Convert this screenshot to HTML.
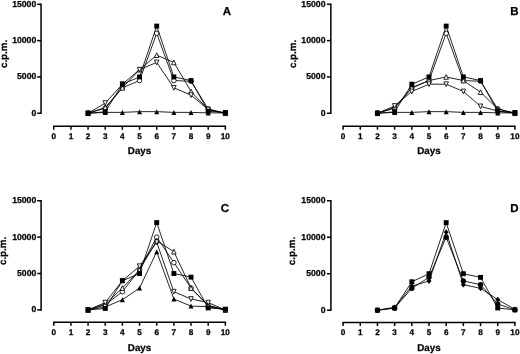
<!DOCTYPE html>
<html><head><meta charset="utf-8"><title>Figure</title>
<style>
html,body{margin:0;padding:0;background:#fff;}
body{width:520px;height:354px;overflow:hidden;}
svg{display:block;}
text{font-family:"Liberation Sans",Arial,Helvetica,sans-serif;font-weight:bold;text-rendering:geometricPrecision;fill:#000;stroke:#000;stroke-width:0.25px;}
.t{font-size:8.7px;}
.tx{font-size:8.2px;}
.l{font-size:9.8px;}
.p{font-size:11.5px;}
</style></head><body>
<svg width="520" height="354" viewBox="0 0 520 354">
<rect width="520" height="354" fill="#fff"/>
<g><path d="M41.05 3.55V114.00" stroke="#000" stroke-width="1.5" fill="none"/><path d="M37.15 113.25H41.05" stroke="#000" stroke-width="1.5"/><text x="36.30" y="115.65" text-anchor="end" class="t">0</text><path d="M37.15 76.93H41.05" stroke="#000" stroke-width="1.5"/><text x="36.30" y="79.33" text-anchor="end" class="t">5000</text><path d="M37.15 40.62H41.05" stroke="#000" stroke-width="1.5"/><text x="36.30" y="43.02" text-anchor="end" class="t">10000</text><path d="M37.15 4.30H41.05" stroke="#000" stroke-width="1.5"/><text x="36.30" y="6.70" text-anchor="end" class="t">15000</text><path d="M53.00 126.35H226.10" stroke="#000" stroke-width="1.5" fill="none"/><path d="M53.75 126.35V129.80" stroke="#000" stroke-width="1.5"/><text x="53.75" y="139.00" text-anchor="middle" class="tx">0</text><path d="M70.91 126.35V129.80" stroke="#000" stroke-width="1.5"/><text x="70.91" y="139.00" text-anchor="middle" class="tx">1</text><path d="M88.07 126.35V129.80" stroke="#000" stroke-width="1.5"/><text x="88.07" y="139.00" text-anchor="middle" class="tx">2</text><path d="M105.23 126.35V129.80" stroke="#000" stroke-width="1.5"/><text x="105.23" y="139.00" text-anchor="middle" class="tx">3</text><path d="M122.39 126.35V129.80" stroke="#000" stroke-width="1.5"/><text x="122.39" y="139.00" text-anchor="middle" class="tx">4</text><path d="M139.55 126.35V129.80" stroke="#000" stroke-width="1.5"/><text x="139.55" y="139.00" text-anchor="middle" class="tx">5</text><path d="M156.71 126.35V129.80" stroke="#000" stroke-width="1.5"/><text x="156.71" y="139.00" text-anchor="middle" class="tx">6</text><path d="M173.87 126.35V129.80" stroke="#000" stroke-width="1.5"/><text x="173.87" y="139.00" text-anchor="middle" class="tx">7</text><path d="M191.03 126.35V129.80" stroke="#000" stroke-width="1.5"/><text x="191.03" y="139.00" text-anchor="middle" class="tx">8</text><path d="M208.19 126.35V129.80" stroke="#000" stroke-width="1.5"/><text x="208.19" y="139.00" text-anchor="middle" class="tx">9</text><path d="M225.35 126.35V129.80" stroke="#000" stroke-width="1.5"/><text x="225.35" y="139.00" text-anchor="middle" class="tx">10</text><text x="139.55" y="154.40" text-anchor="middle" class="l">Days</text><text transform="translate(6.70 53.90) rotate(-90)" text-anchor="middle" class="l">c.p.m.</text><text x="226.8" y="15.0" text-anchor="middle" class="p">A</text><polyline points="88.07,113.25 105.23,112.38 122.39,112.38 139.55,111.65 156.71,111.65 173.87,112.38 191.03,112.38 208.19,112.89 225.35,112.89" fill="none" stroke="#000" stroke-width="0.85"/><path d="M88.07 110.75L90.57 115.75L85.57 115.75Z" fill="#000"/><path d="M105.23 109.88L107.73 114.88L102.73 114.88Z" fill="#000"/><path d="M122.39 109.88L124.89 114.88L119.89 114.88Z" fill="#000"/><path d="M139.55 109.15L142.05 114.15L137.05 114.15Z" fill="#000"/><path d="M156.71 109.15L159.21 114.15L154.21 114.15Z" fill="#000"/><path d="M173.87 109.88L176.37 114.88L171.37 114.88Z" fill="#000"/><path d="M191.03 109.88L193.53 114.88L188.53 114.88Z" fill="#000"/><path d="M208.19 110.39L210.69 115.39L205.69 115.39Z" fill="#000"/><path d="M225.35 110.39L227.85 115.39L222.85 115.39Z" fill="#000"/><polyline points="88.07,113.25 105.23,108.17 122.39,87.83 139.55,80.56 156.71,33.35 173.87,80.56 191.03,81.29 208.19,108.89 225.35,113.25" fill="none" stroke="#000" stroke-width="0.85"/><circle cx="88.07" cy="113.25" r="2.3" fill="#fff" stroke="#000" stroke-width="0.85"/><circle cx="105.23" cy="108.17" r="2.3" fill="#fff" stroke="#000" stroke-width="0.85"/><circle cx="122.39" cy="87.83" r="2.3" fill="#fff" stroke="#000" stroke-width="0.85"/><circle cx="139.55" cy="80.56" r="2.3" fill="#fff" stroke="#000" stroke-width="0.85"/><circle cx="156.71" cy="33.35" r="2.3" fill="#fff" stroke="#000" stroke-width="0.85"/><circle cx="173.87" cy="80.56" r="2.3" fill="#fff" stroke="#000" stroke-width="0.85"/><circle cx="191.03" cy="81.29" r="2.3" fill="#fff" stroke="#000" stroke-width="0.85"/><circle cx="208.19" cy="108.89" r="2.3" fill="#fff" stroke="#000" stroke-width="0.85"/><circle cx="225.35" cy="113.25" r="2.3" fill="#fff" stroke="#000" stroke-width="0.85"/><polyline points="88.07,113.25 105.23,107.44 122.39,87.83 139.55,69.67 156.71,55.14 173.87,62.41 191.03,91.46 208.19,109.62 225.35,113.25" fill="none" stroke="#000" stroke-width="0.85"/><path d="M88.07 110.90L90.32 115.60L85.82 115.60Z" fill="#fff" stroke="#000" stroke-width="0.85"/><path d="M105.23 105.09L107.48 109.79L102.98 109.79Z" fill="#fff" stroke="#000" stroke-width="0.85"/><path d="M122.39 85.48L124.64 90.18L120.14 90.18Z" fill="#fff" stroke="#000" stroke-width="0.85"/><path d="M139.55 67.32L141.80 72.02L137.30 72.02Z" fill="#fff" stroke="#000" stroke-width="0.85"/><path d="M156.71 52.79L158.96 57.49L154.46 57.49Z" fill="#fff" stroke="#000" stroke-width="0.85"/><path d="M173.87 60.06L176.12 64.76L171.62 64.76Z" fill="#fff" stroke="#000" stroke-width="0.85"/><path d="M191.03 89.11L193.28 93.81L188.78 93.81Z" fill="#fff" stroke="#000" stroke-width="0.85"/><path d="M208.19 107.27L210.44 111.97L205.94 111.97Z" fill="#fff" stroke="#000" stroke-width="0.85"/><path d="M225.35 110.90L227.60 115.60L223.10 115.60Z" fill="#fff" stroke="#000" stroke-width="0.85"/><polyline points="88.07,113.25 105.23,103.08 122.39,84.20 139.55,69.67 156.71,62.41 173.87,87.83 191.03,95.09 208.19,109.62 225.35,113.25" fill="none" stroke="#000" stroke-width="0.85"/><path d="M88.07 115.60L90.32 110.90L85.82 110.90Z" fill="#fff" stroke="#000" stroke-width="0.85"/><path d="M105.23 105.43L107.48 100.73L102.98 100.73Z" fill="#fff" stroke="#000" stroke-width="0.85"/><path d="M122.39 86.55L124.64 81.85L120.14 81.85Z" fill="#fff" stroke="#000" stroke-width="0.85"/><path d="M139.55 72.02L141.80 67.32L137.30 67.32Z" fill="#fff" stroke="#000" stroke-width="0.85"/><path d="M156.71 64.76L158.96 60.06L154.46 60.06Z" fill="#fff" stroke="#000" stroke-width="0.85"/><path d="M173.87 90.18L176.12 85.48L171.62 85.48Z" fill="#fff" stroke="#000" stroke-width="0.85"/><path d="M191.03 97.44L193.28 92.74L188.78 92.74Z" fill="#fff" stroke="#000" stroke-width="0.85"/><path d="M208.19 111.97L210.44 107.27L205.94 107.27Z" fill="#fff" stroke="#000" stroke-width="0.85"/><path d="M225.35 115.60L227.60 110.90L223.10 110.90Z" fill="#fff" stroke="#000" stroke-width="0.85"/><polyline points="88.07,113.25 105.23,111.80 122.39,84.20 139.55,76.93 156.71,26.09 173.87,76.93 191.03,80.56 208.19,111.29 225.35,112.52" fill="none" stroke="#000" stroke-width="0.85"/><rect x="85.62" y="110.80" width="4.9" height="4.9" fill="#000"/><rect x="102.78" y="109.35" width="4.9" height="4.9" fill="#000"/><rect x="119.94" y="81.75" width="4.9" height="4.9" fill="#000"/><rect x="137.10" y="74.48" width="4.9" height="4.9" fill="#000"/><rect x="154.26" y="23.64" width="4.9" height="4.9" fill="#000"/><rect x="171.42" y="74.48" width="4.9" height="4.9" fill="#000"/><rect x="188.58" y="78.11" width="4.9" height="4.9" fill="#000"/><rect x="205.74" y="108.84" width="4.9" height="4.9" fill="#000"/><rect x="222.90" y="110.07" width="4.9" height="4.9" fill="#000"/></g>
<g><path d="M330.85 3.55V114.00" stroke="#000" stroke-width="1.5" fill="none"/><path d="M326.95 113.25H330.85" stroke="#000" stroke-width="1.5"/><text x="325.50" y="115.65" text-anchor="end" class="t">0</text><path d="M326.95 76.93H330.85" stroke="#000" stroke-width="1.5"/><text x="325.50" y="79.33" text-anchor="end" class="t">5000</text><path d="M326.95 40.62H330.85" stroke="#000" stroke-width="1.5"/><text x="325.50" y="43.02" text-anchor="end" class="t">10000</text><path d="M326.95 4.30H330.85" stroke="#000" stroke-width="1.5"/><text x="325.50" y="6.70" text-anchor="end" class="t">15000</text><path d="M342.35 126.25H515.65" stroke="#000" stroke-width="1.5" fill="none"/><path d="M343.10 126.25V129.70" stroke="#000" stroke-width="1.5"/><text x="343.10" y="139.10" text-anchor="middle" class="tx">0</text><path d="M360.28 126.25V129.70" stroke="#000" stroke-width="1.5"/><text x="360.28" y="139.10" text-anchor="middle" class="tx">1</text><path d="M377.46 126.25V129.70" stroke="#000" stroke-width="1.5"/><text x="377.46" y="139.10" text-anchor="middle" class="tx">2</text><path d="M394.64 126.25V129.70" stroke="#000" stroke-width="1.5"/><text x="394.64" y="139.10" text-anchor="middle" class="tx">3</text><path d="M411.82 126.25V129.70" stroke="#000" stroke-width="1.5"/><text x="411.82" y="139.10" text-anchor="middle" class="tx">4</text><path d="M429.00 126.25V129.70" stroke="#000" stroke-width="1.5"/><text x="429.00" y="139.10" text-anchor="middle" class="tx">5</text><path d="M446.18 126.25V129.70" stroke="#000" stroke-width="1.5"/><text x="446.18" y="139.10" text-anchor="middle" class="tx">6</text><path d="M463.36 126.25V129.70" stroke="#000" stroke-width="1.5"/><text x="463.36" y="139.10" text-anchor="middle" class="tx">7</text><path d="M480.54 126.25V129.70" stroke="#000" stroke-width="1.5"/><text x="480.54" y="139.10" text-anchor="middle" class="tx">8</text><path d="M497.72 126.25V129.70" stroke="#000" stroke-width="1.5"/><text x="497.72" y="139.10" text-anchor="middle" class="tx">9</text><path d="M514.90 126.25V129.70" stroke="#000" stroke-width="1.5"/><text x="514.90" y="139.10" text-anchor="middle" class="tx">10</text><text x="429.00" y="154.40" text-anchor="middle" class="l">Days</text><text transform="translate(295.60 53.90) rotate(-90)" text-anchor="middle" class="l">c.p.m.</text><text x="514.5" y="15.2" text-anchor="middle" class="p">B</text><polyline points="377.46,113.25 394.64,112.38 411.82,112.38 429.00,111.65 446.18,111.65 463.36,112.38 480.54,112.38 497.72,112.89 514.90,112.89" fill="none" stroke="#000" stroke-width="0.85"/><path d="M377.46 110.75L379.96 115.75L374.96 115.75Z" fill="#000"/><path d="M394.64 109.88L397.14 114.88L392.14 114.88Z" fill="#000"/><path d="M411.82 109.88L414.32 114.88L409.32 114.88Z" fill="#000"/><path d="M429.00 109.15L431.50 114.15L426.50 114.15Z" fill="#000"/><path d="M446.18 109.15L448.68 114.15L443.68 114.15Z" fill="#000"/><path d="M463.36 109.88L465.86 114.88L460.86 114.88Z" fill="#000"/><path d="M480.54 109.88L483.04 114.88L478.04 114.88Z" fill="#000"/><path d="M497.72 110.39L500.22 115.39L495.22 115.39Z" fill="#000"/><path d="M514.90 110.39L517.40 115.39L512.40 115.39Z" fill="#000"/><polyline points="377.46,113.25 394.64,108.17 411.82,87.83 429.00,80.56 446.18,33.35 463.36,80.56 480.54,81.29 497.72,108.89 514.90,113.25" fill="none" stroke="#000" stroke-width="0.85"/><circle cx="377.46" cy="113.25" r="2.3" fill="#fff" stroke="#000" stroke-width="0.85"/><circle cx="394.64" cy="108.17" r="2.3" fill="#fff" stroke="#000" stroke-width="0.85"/><circle cx="411.82" cy="87.83" r="2.3" fill="#fff" stroke="#000" stroke-width="0.85"/><circle cx="429.00" cy="80.56" r="2.3" fill="#fff" stroke="#000" stroke-width="0.85"/><circle cx="446.18" cy="33.35" r="2.3" fill="#fff" stroke="#000" stroke-width="0.85"/><circle cx="463.36" cy="80.56" r="2.3" fill="#fff" stroke="#000" stroke-width="0.85"/><circle cx="480.54" cy="81.29" r="2.3" fill="#fff" stroke="#000" stroke-width="0.85"/><circle cx="497.72" cy="108.89" r="2.3" fill="#fff" stroke="#000" stroke-width="0.85"/><circle cx="514.90" cy="113.25" r="2.3" fill="#fff" stroke="#000" stroke-width="0.85"/><polyline points="377.46,113.25 394.64,107.44 411.82,87.83 429.00,80.56 446.18,76.93 463.36,80.56 480.54,92.19 497.72,108.89 514.90,113.25" fill="none" stroke="#000" stroke-width="0.85"/><path d="M377.46 110.90L379.71 115.60L375.21 115.60Z" fill="#fff" stroke="#000" stroke-width="0.85"/><path d="M394.64 105.09L396.89 109.79L392.39 109.79Z" fill="#fff" stroke="#000" stroke-width="0.85"/><path d="M411.82 85.48L414.07 90.18L409.57 90.18Z" fill="#fff" stroke="#000" stroke-width="0.85"/><path d="M429.00 78.22L431.25 82.91L426.75 82.91Z" fill="#fff" stroke="#000" stroke-width="0.85"/><path d="M446.18 74.58L448.43 79.28L443.93 79.28Z" fill="#fff" stroke="#000" stroke-width="0.85"/><path d="M463.36 78.22L465.61 82.91L461.11 82.91Z" fill="#fff" stroke="#000" stroke-width="0.85"/><path d="M480.54 89.84L482.79 94.54L478.29 94.54Z" fill="#fff" stroke="#000" stroke-width="0.85"/><path d="M497.72 106.54L499.97 111.24L495.47 111.24Z" fill="#fff" stroke="#000" stroke-width="0.85"/><path d="M514.90 110.90L517.15 115.60L512.65 115.60Z" fill="#fff" stroke="#000" stroke-width="0.85"/><polyline points="377.46,113.25 394.64,105.99 411.82,91.46 429.00,84.20 446.18,84.20 463.36,91.46 480.54,106.35 497.72,111.07 514.90,113.25" fill="none" stroke="#000" stroke-width="0.85"/><path d="M377.46 115.60L379.71 110.90L375.21 110.90Z" fill="#fff" stroke="#000" stroke-width="0.85"/><path d="M394.64 108.34L396.89 103.64L392.39 103.64Z" fill="#fff" stroke="#000" stroke-width="0.85"/><path d="M411.82 93.81L414.07 89.11L409.57 89.11Z" fill="#fff" stroke="#000" stroke-width="0.85"/><path d="M429.00 86.55L431.25 81.85L426.75 81.85Z" fill="#fff" stroke="#000" stroke-width="0.85"/><path d="M446.18 86.55L448.43 81.85L443.93 81.85Z" fill="#fff" stroke="#000" stroke-width="0.85"/><path d="M463.36 93.81L465.61 89.11L461.11 89.11Z" fill="#fff" stroke="#000" stroke-width="0.85"/><path d="M480.54 108.70L482.79 104.00L478.29 104.00Z" fill="#fff" stroke="#000" stroke-width="0.85"/><path d="M497.72 113.42L499.97 108.72L495.47 108.72Z" fill="#fff" stroke="#000" stroke-width="0.85"/><path d="M514.90 115.60L517.15 110.90L512.65 110.90Z" fill="#fff" stroke="#000" stroke-width="0.85"/><polyline points="377.46,113.25 394.64,111.80 411.82,84.20 429.00,76.93 446.18,26.09 463.36,76.93 480.54,80.56 497.72,111.29 514.90,112.52" fill="none" stroke="#000" stroke-width="0.85"/><rect x="375.01" y="110.80" width="4.9" height="4.9" fill="#000"/><rect x="392.19" y="109.35" width="4.9" height="4.9" fill="#000"/><rect x="409.37" y="81.75" width="4.9" height="4.9" fill="#000"/><rect x="426.55" y="74.48" width="4.9" height="4.9" fill="#000"/><rect x="443.73" y="23.64" width="4.9" height="4.9" fill="#000"/><rect x="460.91" y="74.48" width="4.9" height="4.9" fill="#000"/><rect x="478.09" y="78.11" width="4.9" height="4.9" fill="#000"/><rect x="495.27" y="108.84" width="4.9" height="4.9" fill="#000"/><rect x="512.45" y="110.07" width="4.9" height="4.9" fill="#000"/></g>
<g><path d="M41.1 200.00V310.65" stroke="#000" stroke-width="1.5" fill="none"/><path d="M37.20 309.90H41.1" stroke="#000" stroke-width="1.5"/><text x="36.30" y="312.30" text-anchor="end" class="t">0</text><path d="M37.20 273.52H41.1" stroke="#000" stroke-width="1.5"/><text x="36.30" y="275.92" text-anchor="end" class="t">5000</text><path d="M37.20 237.13H41.1" stroke="#000" stroke-width="1.5"/><text x="36.30" y="239.53" text-anchor="end" class="t">10000</text><path d="M37.20 200.75H41.1" stroke="#000" stroke-width="1.5"/><text x="36.30" y="203.15" text-anchor="end" class="t">15000</text><path d="M53.00 322.25H226.10" stroke="#000" stroke-width="1.5" fill="none"/><path d="M53.75 322.25V325.70" stroke="#000" stroke-width="1.5"/><text x="53.75" y="334.70" text-anchor="middle" class="tx">0</text><path d="M70.91 322.25V325.70" stroke="#000" stroke-width="1.5"/><text x="70.91" y="334.70" text-anchor="middle" class="tx">1</text><path d="M88.07 322.25V325.70" stroke="#000" stroke-width="1.5"/><text x="88.07" y="334.70" text-anchor="middle" class="tx">2</text><path d="M105.23 322.25V325.70" stroke="#000" stroke-width="1.5"/><text x="105.23" y="334.70" text-anchor="middle" class="tx">3</text><path d="M122.39 322.25V325.70" stroke="#000" stroke-width="1.5"/><text x="122.39" y="334.70" text-anchor="middle" class="tx">4</text><path d="M139.55 322.25V325.70" stroke="#000" stroke-width="1.5"/><text x="139.55" y="334.70" text-anchor="middle" class="tx">5</text><path d="M156.71 322.25V325.70" stroke="#000" stroke-width="1.5"/><text x="156.71" y="334.70" text-anchor="middle" class="tx">6</text><path d="M173.87 322.25V325.70" stroke="#000" stroke-width="1.5"/><text x="173.87" y="334.70" text-anchor="middle" class="tx">7</text><path d="M191.03 322.25V325.70" stroke="#000" stroke-width="1.5"/><text x="191.03" y="334.70" text-anchor="middle" class="tx">8</text><path d="M208.19 322.25V325.70" stroke="#000" stroke-width="1.5"/><text x="208.19" y="334.70" text-anchor="middle" class="tx">9</text><path d="M225.35 322.25V325.70" stroke="#000" stroke-width="1.5"/><text x="225.35" y="334.70" text-anchor="middle" class="tx">10</text><text x="139.55" y="350.60" text-anchor="middle" class="l">Days</text><text transform="translate(5.80 250.90) rotate(-90)" text-anchor="middle" class="l">c.p.m.</text><text x="224.8" y="212.0" text-anchor="middle" class="p">C</text><polyline points="88.07,309.90 105.23,306.99 122.39,299.71 139.55,288.07 156.71,251.69 173.87,298.98 191.03,306.12 208.19,306.63 225.35,309.90" fill="none" stroke="#000" stroke-width="0.85"/><path d="M88.07 307.40L90.57 312.40L85.57 312.40Z" fill="#000"/><path d="M105.23 304.49L107.73 309.49L102.73 309.49Z" fill="#000"/><path d="M122.39 297.21L124.89 302.21L119.89 302.21Z" fill="#000"/><path d="M139.55 285.57L142.05 290.57L137.05 290.57Z" fill="#000"/><path d="M156.71 249.19L159.21 254.19L154.21 254.19Z" fill="#000"/><path d="M173.87 296.48L176.37 301.48L171.37 301.48Z" fill="#000"/><path d="M191.03 303.62L193.53 308.62L188.53 308.62Z" fill="#000"/><path d="M208.19 304.13L210.69 309.13L205.69 309.13Z" fill="#000"/><path d="M225.35 307.40L227.85 312.40L222.85 312.40Z" fill="#000"/><polyline points="88.07,309.90 105.23,304.81 122.39,291.71 139.55,269.88 156.71,237.13 173.87,262.60 191.03,288.07 208.19,305.53 225.35,309.90" fill="none" stroke="#000" stroke-width="0.85"/><circle cx="88.07" cy="309.90" r="2.3" fill="#fff" stroke="#000" stroke-width="0.85"/><circle cx="105.23" cy="304.81" r="2.3" fill="#fff" stroke="#000" stroke-width="0.85"/><circle cx="122.39" cy="291.71" r="2.3" fill="#fff" stroke="#000" stroke-width="0.85"/><circle cx="139.55" cy="269.88" r="2.3" fill="#fff" stroke="#000" stroke-width="0.85"/><circle cx="156.71" cy="237.13" r="2.3" fill="#fff" stroke="#000" stroke-width="0.85"/><circle cx="173.87" cy="262.60" r="2.3" fill="#fff" stroke="#000" stroke-width="0.85"/><circle cx="191.03" cy="288.07" r="2.3" fill="#fff" stroke="#000" stroke-width="0.85"/><circle cx="208.19" cy="305.53" r="2.3" fill="#fff" stroke="#000" stroke-width="0.85"/><circle cx="225.35" cy="309.90" r="2.3" fill="#fff" stroke="#000" stroke-width="0.85"/><polyline points="88.07,309.90 105.23,304.08 122.39,288.07 139.55,269.88 156.71,240.77 173.87,251.69 191.03,288.07 208.19,305.53 225.35,309.90" fill="none" stroke="#000" stroke-width="0.85"/><path d="M88.07 307.55L90.32 312.25L85.82 312.25Z" fill="#fff" stroke="#000" stroke-width="0.85"/><path d="M105.23 301.73L107.48 306.43L102.98 306.43Z" fill="#fff" stroke="#000" stroke-width="0.85"/><path d="M122.39 285.72L124.64 290.42L120.14 290.42Z" fill="#fff" stroke="#000" stroke-width="0.85"/><path d="M139.55 267.53L141.80 272.23L137.30 272.23Z" fill="#fff" stroke="#000" stroke-width="0.85"/><path d="M156.71 238.42L158.96 243.12L154.46 243.12Z" fill="#fff" stroke="#000" stroke-width="0.85"/><path d="M173.87 249.34L176.12 254.04L171.62 254.04Z" fill="#fff" stroke="#000" stroke-width="0.85"/><path d="M191.03 285.72L193.28 290.42L188.78 290.42Z" fill="#fff" stroke="#000" stroke-width="0.85"/><path d="M208.19 303.18L210.44 307.88L205.94 307.88Z" fill="#fff" stroke="#000" stroke-width="0.85"/><path d="M225.35 307.55L227.60 312.25L223.10 312.25Z" fill="#fff" stroke="#000" stroke-width="0.85"/><polyline points="88.07,309.90 105.23,302.62 122.39,280.79 139.55,266.24 156.71,242.23 173.87,291.71 191.03,298.98 208.19,302.62 225.35,309.90" fill="none" stroke="#000" stroke-width="0.85"/><path d="M88.07 312.25L90.32 307.55L85.82 307.55Z" fill="#fff" stroke="#000" stroke-width="0.85"/><path d="M105.23 304.97L107.48 300.27L102.98 300.27Z" fill="#fff" stroke="#000" stroke-width="0.85"/><path d="M122.39 283.14L124.64 278.44L120.14 278.44Z" fill="#fff" stroke="#000" stroke-width="0.85"/><path d="M139.55 268.59L141.80 263.89L137.30 263.89Z" fill="#fff" stroke="#000" stroke-width="0.85"/><path d="M156.71 244.58L158.96 239.88L154.46 239.88Z" fill="#fff" stroke="#000" stroke-width="0.85"/><path d="M173.87 294.06L176.12 289.36L171.62 289.36Z" fill="#fff" stroke="#000" stroke-width="0.85"/><path d="M191.03 301.33L193.28 296.63L188.78 296.63Z" fill="#fff" stroke="#000" stroke-width="0.85"/><path d="M208.19 304.97L210.44 300.27L205.94 300.27Z" fill="#fff" stroke="#000" stroke-width="0.85"/><path d="M225.35 312.25L227.60 307.55L223.10 307.55Z" fill="#fff" stroke="#000" stroke-width="0.85"/><polyline points="88.07,309.90 105.23,308.44 122.39,280.79 139.55,273.52 156.71,222.58 173.87,273.52 191.03,277.15 208.19,307.94 225.35,309.17" fill="none" stroke="#000" stroke-width="0.85"/><rect x="85.62" y="307.45" width="4.9" height="4.9" fill="#000"/><rect x="102.78" y="305.99" width="4.9" height="4.9" fill="#000"/><rect x="119.94" y="278.34" width="4.9" height="4.9" fill="#000"/><rect x="137.10" y="271.07" width="4.9" height="4.9" fill="#000"/><rect x="154.26" y="220.13" width="4.9" height="4.9" fill="#000"/><rect x="171.42" y="271.07" width="4.9" height="4.9" fill="#000"/><rect x="188.58" y="274.70" width="4.9" height="4.9" fill="#000"/><rect x="205.74" y="305.49" width="4.9" height="4.9" fill="#000"/><rect x="222.90" y="306.72" width="4.9" height="4.9" fill="#000"/></g>
<g><path d="M330.9 200.00V310.95" stroke="#000" stroke-width="1.5" fill="none"/><path d="M327.00 310.20H330.9" stroke="#000" stroke-width="1.5"/><text x="325.50" y="312.60" text-anchor="end" class="t">0</text><path d="M327.00 273.72H330.9" stroke="#000" stroke-width="1.5"/><text x="325.50" y="276.12" text-anchor="end" class="t">5000</text><path d="M327.00 237.23H330.9" stroke="#000" stroke-width="1.5"/><text x="325.50" y="239.63" text-anchor="end" class="t">10000</text><path d="M327.00 200.75H330.9" stroke="#000" stroke-width="1.5"/><text x="325.50" y="203.15" text-anchor="end" class="t">15000</text><path d="M342.35 322.6H515.65" stroke="#000" stroke-width="1.5" fill="none"/><path d="M343.10 322.6V326.05" stroke="#000" stroke-width="1.5"/><text x="343.10" y="334.90" text-anchor="middle" class="tx">0</text><path d="M360.28 322.6V326.05" stroke="#000" stroke-width="1.5"/><text x="360.28" y="334.90" text-anchor="middle" class="tx">1</text><path d="M377.46 322.6V326.05" stroke="#000" stroke-width="1.5"/><text x="377.46" y="334.90" text-anchor="middle" class="tx">2</text><path d="M394.64 322.6V326.05" stroke="#000" stroke-width="1.5"/><text x="394.64" y="334.90" text-anchor="middle" class="tx">3</text><path d="M411.82 322.6V326.05" stroke="#000" stroke-width="1.5"/><text x="411.82" y="334.90" text-anchor="middle" class="tx">4</text><path d="M429.00 322.6V326.05" stroke="#000" stroke-width="1.5"/><text x="429.00" y="334.90" text-anchor="middle" class="tx">5</text><path d="M446.18 322.6V326.05" stroke="#000" stroke-width="1.5"/><text x="446.18" y="334.90" text-anchor="middle" class="tx">6</text><path d="M463.36 322.6V326.05" stroke="#000" stroke-width="1.5"/><text x="463.36" y="334.90" text-anchor="middle" class="tx">7</text><path d="M480.54 322.6V326.05" stroke="#000" stroke-width="1.5"/><text x="480.54" y="334.90" text-anchor="middle" class="tx">8</text><path d="M497.72 322.6V326.05" stroke="#000" stroke-width="1.5"/><text x="497.72" y="334.90" text-anchor="middle" class="tx">9</text><path d="M514.90 322.6V326.05" stroke="#000" stroke-width="1.5"/><text x="514.90" y="334.90" text-anchor="middle" class="tx">10</text><text x="429.00" y="350.60" text-anchor="middle" class="l">Days</text><text transform="translate(295.00 251.00) rotate(-90)" text-anchor="middle" class="l">c.p.m.</text><text x="514.4" y="212.0" text-anchor="middle" class="p">D</text><polyline points="377.46,310.20 394.64,308.01 411.82,281.74 429.00,273.72 446.18,222.64 463.36,273.72 480.54,277.37 497.72,308.01 514.90,309.84" fill="none" stroke="#000" stroke-width="0.85"/><rect x="375.01" y="307.75" width="4.9" height="4.9" fill="#000"/><rect x="392.19" y="305.56" width="4.9" height="4.9" fill="#000"/><rect x="409.37" y="279.29" width="4.9" height="4.9" fill="#000"/><rect x="426.55" y="271.27" width="4.9" height="4.9" fill="#000"/><rect x="443.73" y="220.19" width="4.9" height="4.9" fill="#000"/><rect x="460.91" y="271.27" width="4.9" height="4.9" fill="#000"/><rect x="478.09" y="274.92" width="4.9" height="4.9" fill="#000"/><rect x="495.27" y="305.56" width="4.9" height="4.9" fill="#000"/><rect x="512.45" y="307.39" width="4.9" height="4.9" fill="#000"/><polyline points="377.46,310.20 394.64,307.28 411.82,286.12 429.00,281.01 446.18,232.13 463.36,284.66 480.54,288.31 497.72,299.62 514.90,309.32" fill="none" stroke="#000" stroke-width="0.85"/><path d="M377.46 307.30L379.93 310.20L377.46 313.10L375.00 310.20Z" fill="#000"/><path d="M394.64 304.38L397.10 307.28L394.64 310.18L392.18 307.28Z" fill="#000"/><path d="M411.82 283.22L414.28 286.12L411.82 289.02L409.36 286.12Z" fill="#000"/><path d="M429.00 278.11L431.46 281.01L429.00 283.91L426.54 281.01Z" fill="#000"/><path d="M446.18 229.23L448.64 232.13L446.18 235.03L443.72 232.13Z" fill="#000"/><path d="M463.36 281.76L465.82 284.66L463.36 287.56L460.90 284.66Z" fill="#000"/><path d="M480.54 285.41L483.00 288.31L480.54 291.21L478.07 288.31Z" fill="#000"/><path d="M497.72 296.72L500.19 299.62L497.72 302.52L495.26 299.62Z" fill="#000"/><path d="M514.90 306.42L517.37 309.32L514.90 312.22L512.43 309.32Z" fill="#000"/><polyline points="377.46,310.20 394.64,308.01 411.82,288.31 429.00,277.37 446.18,237.23 463.36,281.01 480.54,284.66 497.72,304.00 514.90,309.84" fill="none" stroke="#000" stroke-width="0.85"/><circle cx="377.46" cy="310.20" r="2.7" fill="#000"/><circle cx="394.64" cy="308.01" r="2.7" fill="#000"/><circle cx="411.82" cy="288.31" r="2.7" fill="#000"/><circle cx="429.00" cy="277.37" r="2.7" fill="#000"/><circle cx="446.18" cy="237.23" r="2.7" fill="#000"/><circle cx="463.36" cy="281.01" r="2.7" fill="#000"/><circle cx="480.54" cy="284.66" r="2.7" fill="#000"/><circle cx="497.72" cy="304.00" r="2.7" fill="#000"/><circle cx="514.90" cy="309.84" r="2.7" fill="#000"/></g>
</svg>
</body></html>
